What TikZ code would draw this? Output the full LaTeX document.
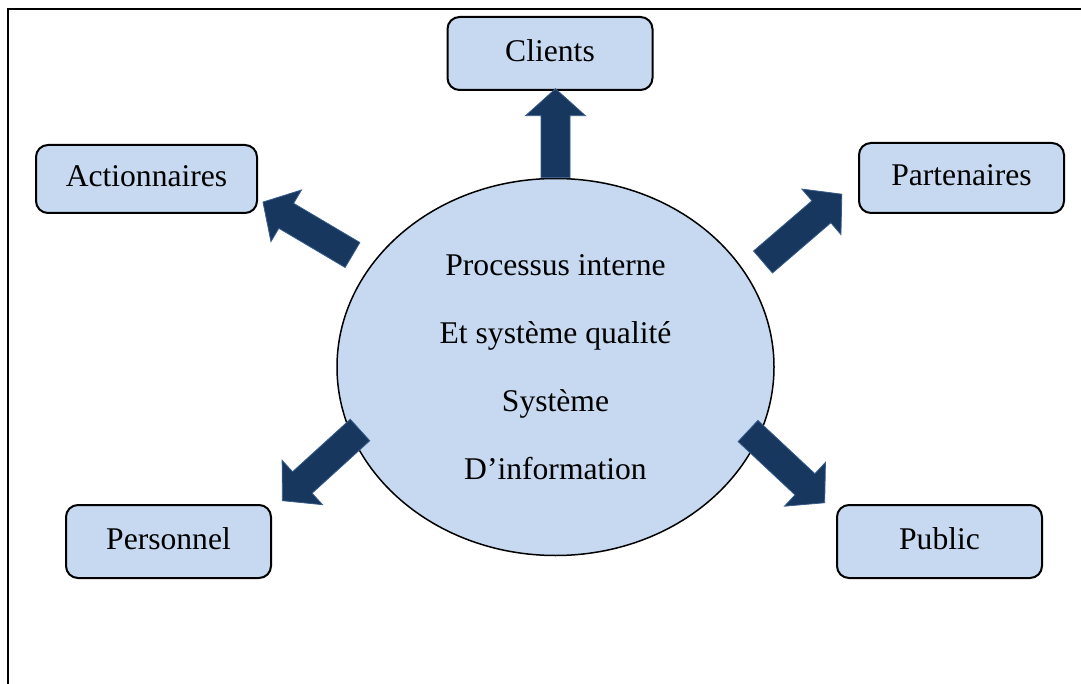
\documentclass[tikz,border=0pt]{standalone}
\usepackage{fontspec}
\setmainfont{Liberation Serif}
\usetikzlibrary{shapes.geometric}

\definecolor{paleblue}{RGB}{198,217,240}
\definecolor{navy}{RGB}{23,55,94}
\definecolor{navyedge}{RGB}{56,93,138}

\begin{document}
\begin{tikzpicture}[
    x=0.5pt, y=-0.5pt,
    party/.style = {draw, line width=1pt, rounded corners=6pt, fill=paleblue,
                    minimum width=102.5pt, minimum height=36.5pt, inner sep=0pt,
                    text depth=3pt, font=\fontsize{15.8}{19}\selectfont},
    core/.style  = {draw, ellipse, line width=0.75pt, fill=paleblue, inner sep=0pt,
                    minimum width=218.5pt, minimum height=188.5pt, align=center,
                    font=\fontsize{15.8}{34}\selectfont},
    flow/.pic    = {
      \pgfmathsetmacro\neck{#1-27}
      \filldraw[fill=navy, draw=navyedge, line width=0.4pt]
        (0,-14.5) -- (\neck,-14.5) -- (\neck,-30) -- (#1,0)
        -- (\neck,30) -- (\neck,14.5) -- (0,14.5) -- cycle;
    },
  ]
  \useasboundingbox (0,0) rectangle (1081,684);
  \draw[line width=1pt] (8,684) -- (8,9) -- (1081,9);

  \node[party] (clients) at (550,53.5) {Clients};
  \node[party, minimum width=110.5pt, minimum height=34pt] (shareholders) at (146.5,179) {Actionnaires};
  \node[party, minimum height=35pt] (partners) at (961.5,178) {Partenaires};
  \node[party] (staff) at (168.5,541.5) {Personnel};
  \node[party] (public) at (939.5,541.5) {Public};
  \node[core] (core) at (555.5,367) {Processus interne\\Et système qualité\\Système\\D’information};

  % block arrows going out of the core
  \pic[rotate=90] at (core.north) {flow=89};
  \pic[rotate=149.4] at (352.5,255) {flow=104};
  \pic[rotate=40.7] at (763,262) {flow=104};
  \pic[rotate=222.3] at (360,430) {flow=105};
  \pic[rotate=316.9] at (748,431) {flow=105};
\end{tikzpicture}
\end{document}
